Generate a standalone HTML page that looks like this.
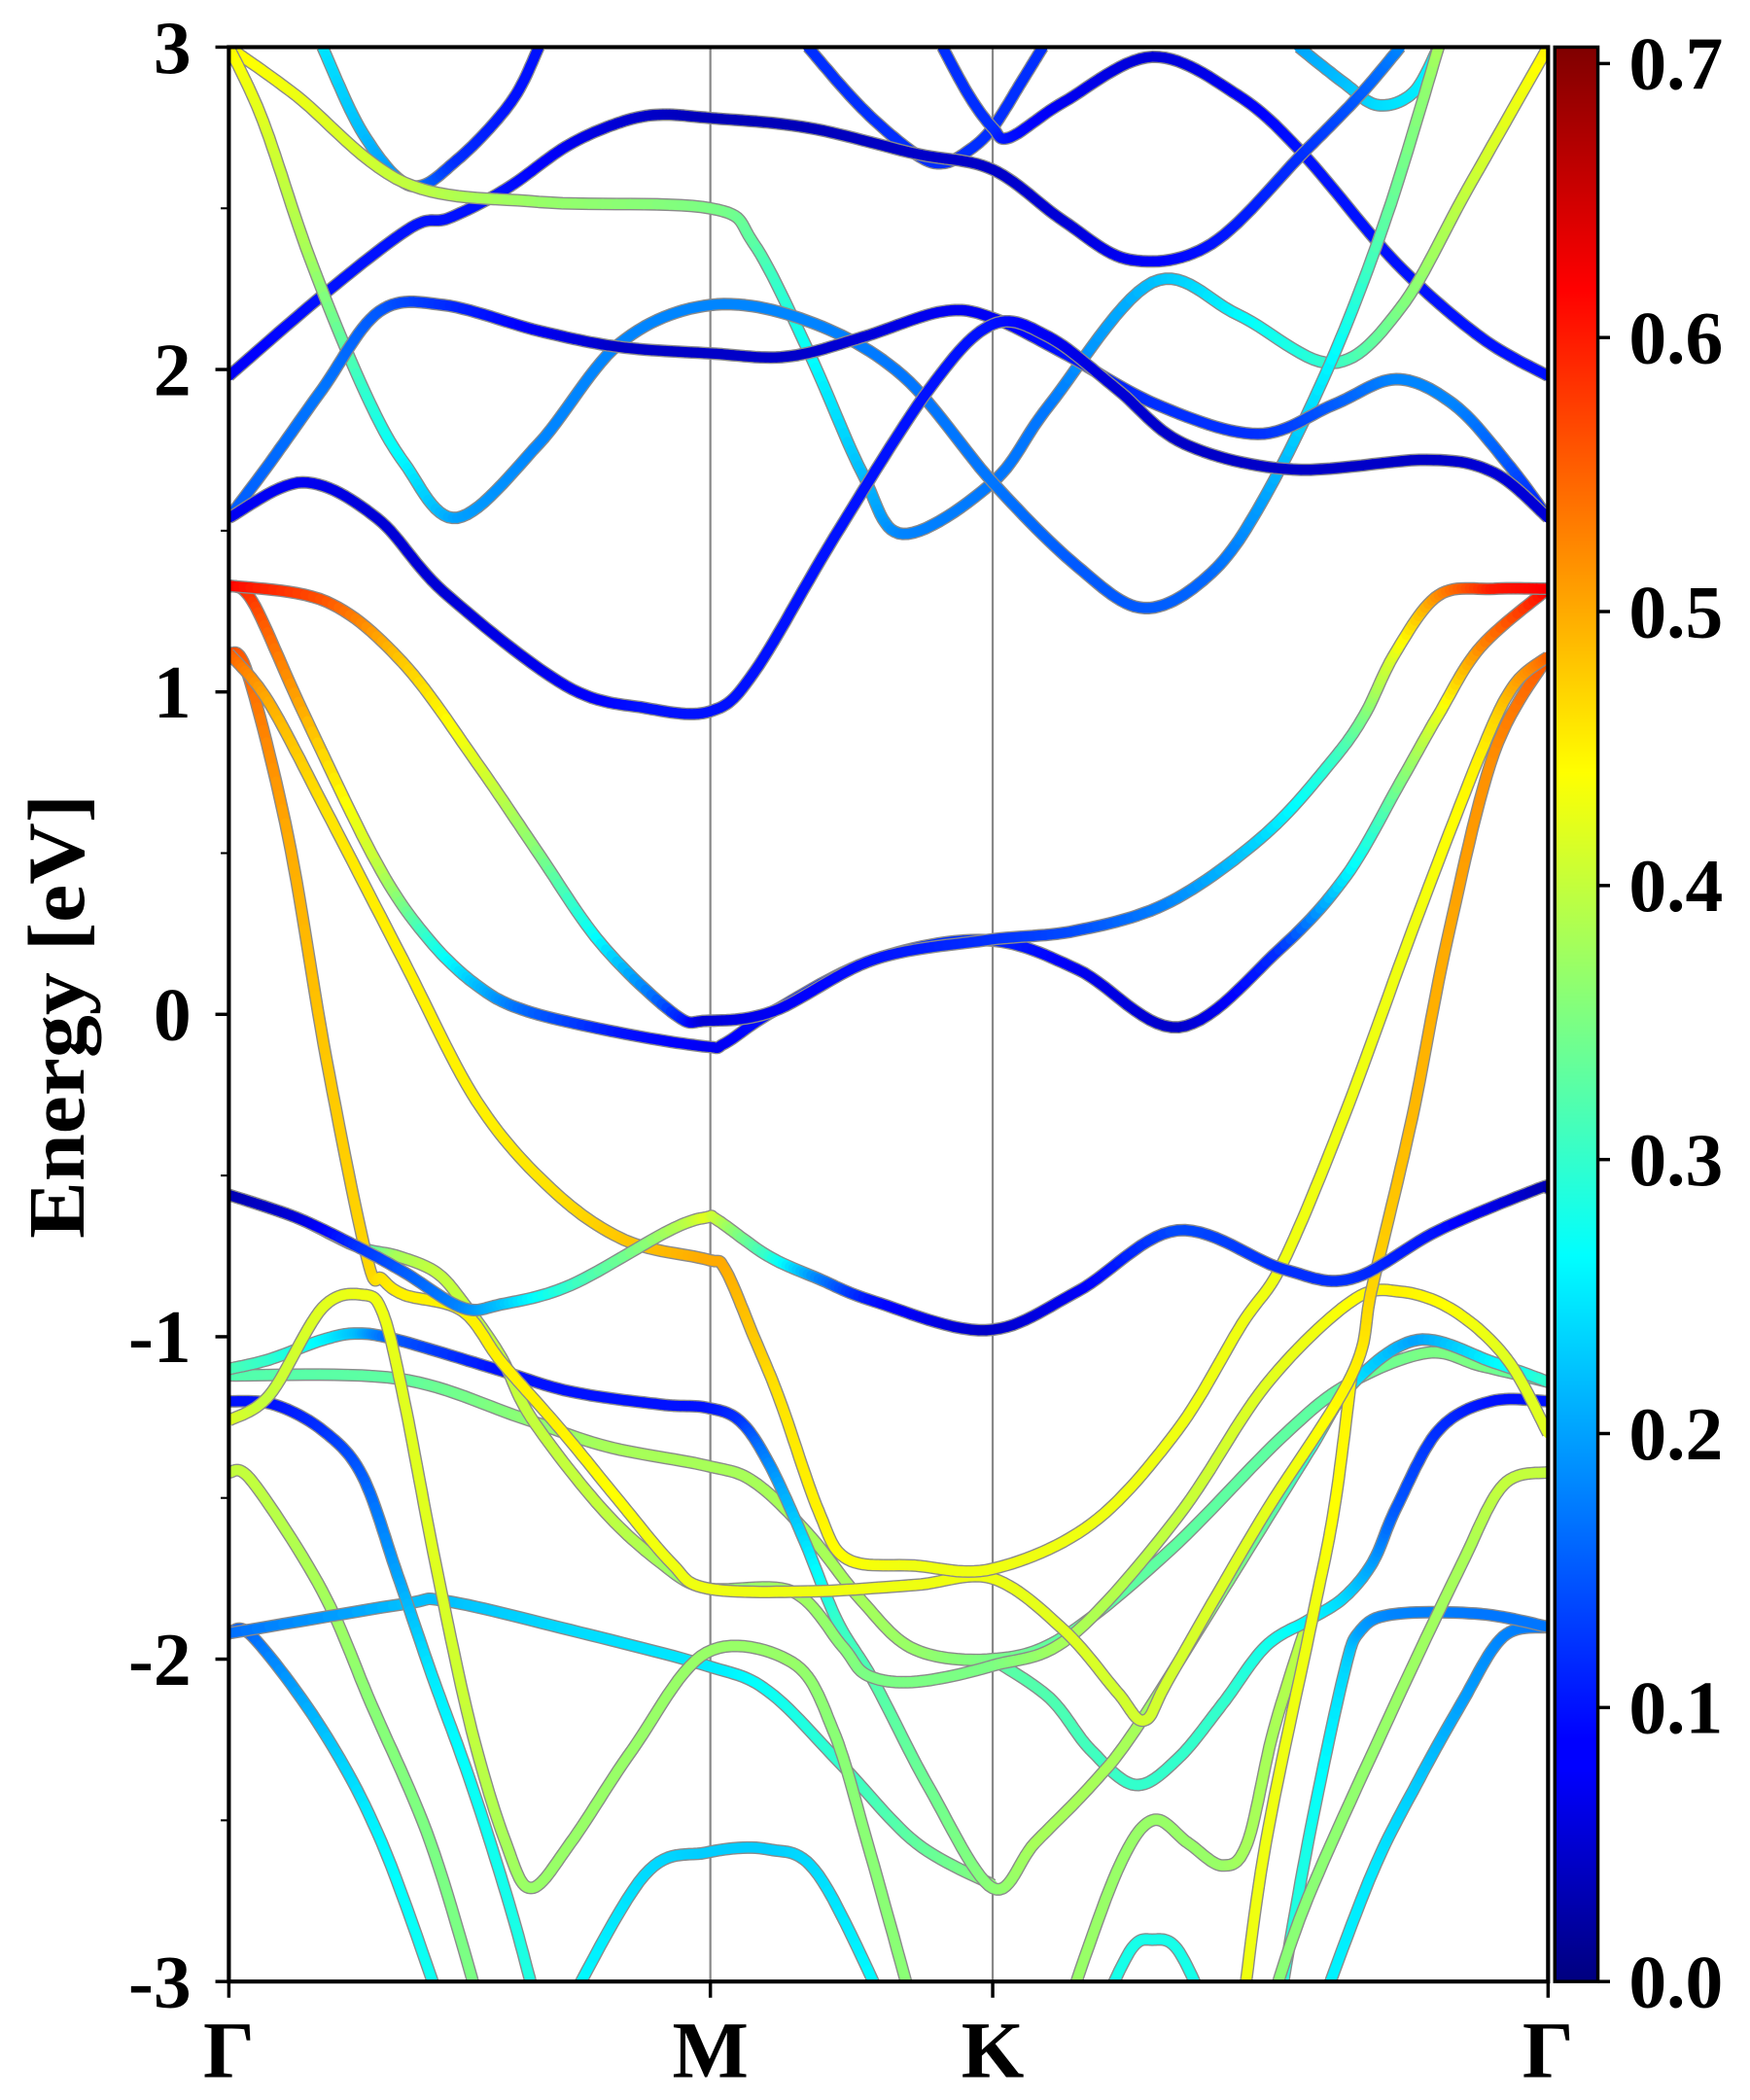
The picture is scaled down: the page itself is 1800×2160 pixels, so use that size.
<!DOCTYPE html>
<html><head><meta charset="utf-8"><style>html,body{margin:0;padding:0;background:#fff}svg{display:block}text{font-family:"Liberation Serif",serif;font-weight:bold;fill:#000}</style></head>
<body>
<svg id="chart" width="1800" height="2160" viewBox="0 0 1300 1560" xmlns="http://www.w3.org/2000/svg">
<defs>
<clipPath id="plotClip"><rect x="170" y="35" width="980" height="1437"/></clipPath>
<linearGradient id="jet" x1="0" y1="1" x2="0" y2="0">
<stop offset="0" stop-color="#00007f"/><stop offset="0.11" stop-color="#0000ff"/><stop offset="0.125" stop-color="#0000ff"/><stop offset="0.375" stop-color="#00ffff"/><stop offset="0.625" stop-color="#ffff00"/><stop offset="0.875" stop-color="#ff0000"/><stop offset="1" stop-color="#7f0000"/>
</linearGradient>
</defs>
<g id="bands" clip-path="url(#plotClip)"></g>
<g id="axes"></g>
</svg>
<script>
// ---- data: k in % of path Γ-M-K-Γ, energy in eV, weight ----
const kTickLabels=["Γ","M","K","Γ"];
const kTickPos=[0,36.5,57.9,100];
const eTicks=[-3,-2,-1,0,1,2,3];
const cbTicks=[0.0,0.1,0.2,0.3,0.4,0.5,0.6,0.7];
const cbMax=0.706;

const c1K=[0,5.6,11.2,16.3,25.5,31.6,36.5,39.8,45.9,53.1,57.9,62.2,67.3,72.4,80.6,90.8,95.9,100];
const c1E=[1.54,1.65,1.54,1.31,1.02,0.95,0.94,1.06,1.48,1.94,2.14,2.10,1.94,1.77,1.69,1.72,1.68,1.54];
const c1W=[.08,.08,.06,.06,.08,.1,.1,.1,.1,.1,.1,.08,.06,.05,.05,.05,.06,.06];
const c2K=[0,3.1,7.1,11.4,16.3,23.5,29.6,36.5,42.3,48,54.1,57.9,63.3,70.4,78,83.7,88.5,92.9,96.9,100];
const c2E=[1.54,1.71,1.94,2.18,2.20,2.12,2.07,2.05,2.04,2.10,2.18,2.16,2.05,1.89,1.80,1.89,1.97,1.89,1.71,1.54];
const c2W=[.15,.16,.17,.15,.12,.08,.05,.05,.05,.06,.08,.08,.1,.12,.12,.15,.18,.18,.15,.1];
const c3K=[0,2.6,6.1,10.2,13.3,17.3,23.5,29.6,36.5,43.9,51.1,57.9,64.3,69.4,74.5,78.6,83.6,87.8,91.7];
const c3E=[3.0,2.77,2.35,1.94,1.71,1.54,1.77,2.08,2.20,2.15,1.98,1.65,1.39,1.26,1.37,1.61,2.03,2.48,3.0];
const c3W=[.45,.42,.38,.3,.26,.2,.18,.18,.18,.18,.17,.17,.15,.15,.16,.2,.26,.33,.38];
const c4K=[0,5.1,13.3,23.5,36.5,39.8,43.9,48,51.1,57.9,62.2,70,76.5,83.6,88.8,93.9,100];
const c4E=[3.0,2.85,2.58,2.52,2.50,2.39,2.06,1.68,1.49,1.65,1.89,2.27,2.17,2.02,2.19,2.56,3.0];
const c4W=[.45,.43,.4,.37,.35,.33,.27,.22,.18,.17,.17,.22,.26,.3,.35,.4,.45];
const c5K=[0,7.1,13.8,16.7,21,25.5,29.2,32.4,36.5,43.9,52,57.9,63.3,68.4,74.5,81.4,85.7,88.8];
const c5E=[1.98,2.23,2.44,2.47,2.56,2.69,2.76,2.79,2.78,2.75,2.67,2.62,2.46,2.34,2.39,2.67,2.85,3.0];
const c5W=[.08,.1,.1,.1,.1,.08,.06,.05,.04,.04,.05,.05,.06,.08,.1,.12,.15,.18];
const c6K=[43.9,48,52,54.1,56.1,57.9,60.2,61.7];
const c6E=[3.0,2.81,2.67,2.64,2.68,2.75,2.90,3.0];
const c6W=[.12,.12,.12,.12,.12,.12,.12,.12];
const c7K=[54.1,56.1,57.9,59.2,63.3,70,76.5,81.4,88.5,94.9,100];
const c7E=[3.0,2.85,2.75,2.72,2.83,2.97,2.85,2.67,2.33,2.10,1.98];
const c7W=[.12,.12,.12,.1,.08,.06,.08,.1,.1,.1,.1];
const c8K=[7.1,10.2,13.8,17.3,21.4,23.5];
const c8E=[3.0,2.73,2.57,2.65,2.83,3.0];
const c8W=[.25,.22,.18,.12,.1,.1];
const c9K=[81.1,84.5,87.1,89.8,91.7];
const c9E=[3.0,2.89,2.82,2.86,3.0];
const c9W=[.2,.22,.24,.25,.26];

const v1K=[0,7.4,13.2,18.8,23.3,28.2,33.8,36.2,41.3,48.9,57.4,64.3,71.4,78.6,83.7,86.1,88.4,91.7,95.9,100];
const v1E=[1.33,1.28,1.09,0.78,0.51,0.22,0.0,-0.02,0.01,0.17,0.23,0.26,0.35,0.56,0.79,0.93,1.12,1.30,1.32,1.32];
const v1W=[.62,.56,.48,.42,.36,.26,.12,.06,.08,.1,.12,.14,.18,.24,.3,.35,.42,.52,.6,.62];
const vbK=[0,1.8,5.6,11.2,15,18.8,22.6,30,36.2,37.6,41.3,48.9,57.4,64.3,72,79.6,84.7,88.8,91.7,94.9,100];
const vbE=[1.33,1.28,0.94,0.47,0.24,0.09,0.01,-0.06,-0.10,-0.09,0.01,0.17,0.23,0.14,-0.04,0.20,0.43,0.72,0.93,1.14,1.32];
const vbW=[.62,.58,.5,.4,.3,.22,.16,.1,.08,.08,.1,.12,.12,.08,.05,.12,.25,.35,.42,.52,.62];
const v2K=[0,3,7.4,13.2,18.8,24.4,30,36.2,37.6,39.8,41.8,44.7,46.9,52,57.9,65.4,71.9,76.8,79.9,84.5,89.8,94.9,97.4,100];
const v2E=[1.12,0.97,0.63,0.17,-0.27,-0.54,-0.7,-0.76,-0.79,-1.0,-1.2,-1.54,-1.69,-1.71,-1.72,-1.58,-1.29,-0.96,-0.77,-0.32,0.27,0.81,1.02,1.11];
const v2W=[.56,.5,.46,.45,.45,.46,.48,.5,.5,.48,.46,.45,.44,.43,.43,.43,.43,.43,.43,.43,.43,.45,.5,.55];
const v4K=[0,1.4,4.5,7.4,10.5,11.6,13.3,17.7,20.7,25.2,29.6,33.5,36.2,43.9,52,57.9,63.3,67.3,69.4,71.4,78.2,85.1,86.7,89.7,92.3,95.9,100];
const v4E=[1.12,1.06,0.55,-0.14,-0.76,-0.82,-0.87,-0.92,-1.08,-1.29,-1.51,-1.70,-1.78,-1.79,-1.77,-1.75,-1.91,-2.1,-2.19,-2.05,-1.57,-1.12,-0.84,-0.32,0.22,0.81,1.11];
const v4W=[.58,.55,.5,.48,.47,.46,.45,.45,.45,.45,.44,.43,.43,.43,.43,.43,.42,.41,.41,.41,.42,.45,.47,.49,.5,.52,.56];
const r9K=[76.8,78.6,82.1,83.8,85.1];
const r9E=[-3.1,-2.57,-1.88,-1.53,-1.12];
const r9W=[.43,.43,.43,.44,.45];
const v5K=[0,5.1,9.7,13.3,17.7,20.6,25.9,33.4,36.2,37.1,40.9,44.7,48.9,57.4,64.3,71.9,79.9,85.1,91.7,99.3,100];
const v5E=[-0.56,-0.63,-0.72,-0.80,-0.91,-0.9,-0.84,-0.67,-0.63,-0.64,-0.75,-0.82,-0.89,-0.98,-0.86,-0.67,-0.79,-0.82,-0.67,-0.54,-0.54];
const v5W=[.03,.06,.12,.15,.18,.22,.3,.38,.42,.4,.3,.18,.1,.05,.08,.14,.12,.12,.1,.04,.03];
const v7K=[0,5.1,9.7,12.8,15.7,17.7,20.6,22.9,28.2,32.7,36.2,42.7,46.5,48.4,52.1,57.9,63.8,71.9,78.6,85.1,88.8,92.9,96.9,100];
const v7E=[-0.56,-0.63,-0.72,-0.75,-0.8,-0.89,-1.06,-1.25,-1.53,-1.7,-1.78,-1.79,-1.96,-2.05,-2.07,-2.02,-1.93,-1.56,-1.15,-0.89,-0.86,-0.92,-1.07,-1.30];
const v7W=[.03,.06,.3,.38,.4,.4,.4,.4,.4,.38,.36,.38,.36,.35,.35,.35,.38,.4,.42,.44,.45,.44,.42,.42];
const v8K=[0,3.1,7.1,10.2,11.7,13.3,15.7,18.4,21,22.9,25.9,30.6,36.2,42.7,45.8,48.4,52];
const v8E=[-1.26,-1.18,-0.91,-0.87,-0.93,-1.2,-1.71,-2.22,-2.57,-2.71,-2.57,-2.28,-1.98,-2.01,-2.22,-2.57,-3.1];
const v8W=[.42,.4,.42,.43,.43,.42,.42,.4,.38,.37,.37,.37,.37,.37,.36,.36,.36];
const v9K=[0,3.1,7.1,9.7,12.8,20.2,25.9,32.7,36.2,38.7,40.9,43.6,46.1,48.9,53.1,57.9,61.1,65.4,68.7,75.3,81.8,85.1,90.1,95.9,100];
const v9E=[-1.1,-1.07,-1.01,-0.99,-1.01,-1.1,-1.17,-1.21,-1.22,-1.26,-1.39,-1.63,-1.88,-2.07,-2.4,-2.71,-2.57,-2.39,-2.22,-1.79,-1.36,-1.15,-1.01,-1.08,-1.14];
const v9W=[.32,.3,.26,.22,.15,.1,.1,.1,.1,.12,.18,.24,.3,.32,.34,.36,.38,.38,.38,.36,.3,.25,.2,.26,.3];
const v11K=[0,12.8,22.1,28.6,36.2,39.8,43.9,48,52,57.9,63.3,71.4,79.6,84.7,90.8,94.9,100];
const v11E=[-1.12,-1.13,-1.25,-1.34,-1.4,-1.45,-1.61,-1.82,-1.97,-2.0,-1.93,-1.66,-1.32,-1.15,-1.05,-1.09,-1.14];
const v11W=[.32,.33,.36,.38,.38,.38,.38,.38,.37,.35,.33,.33,.33,.33,.35,.35,.32];
const v12K=[0,3.4,7.1,10.1,12.8,15.4,18.4,21.4,23.5];
const v12E=[-1.2,-1.21,-1.29,-1.43,-1.74,-2.05,-2.39,-2.78,-3.1];
const v12W=[.1,.1,.12,.15,.2,.25,.27,.28,.29];
const v13K=[0,1.8,7.1,10.8,15.3,19.2];
const v13E=[-1.42,-1.45,-1.79,-2.14,-2.57,-3.1];
const v13W=[.4,.4,.38,.36,.35,.35];
const v14K=[0,13.1,16.5,25.9,36.2,40.9,46.5,52.1,57.9];
const v14E=[-1.92,-1.83,-1.82,-1.91,-2.02,-2.1,-2.33,-2.57,-2.7];
const v14W=[.16,.22,.22,.24,.25,.27,.3,.33,.36];
const v15K=[0,1.8,7.1,11.6,16.3];
const v15E=[-1.92,-1.93,-2.22,-2.57,-3.1];
const v15W=[.15,.16,.22,.26,.28];
const v16K=[25.4,31.5,36.2,40.9,44.7,50];
const v16E=[-3.1,-2.67,-2.6,-2.59,-2.67,-3.1];
const v16W=[.27,.24,.23,.23,.24,.27];
const r1K=[57.9,62.2,65.3,68.7,71.9,75.3,78.6,81.8,84.5,86.7,88.5,91.7,95.7,100];
const r1E=[-2.0,-2.12,-2.28,-2.39,-2.31,-2.14,-1.96,-1.88,-1.81,-1.7,-1.53,-1.29,-1.2,-1.2];
const r1W=[.33,.32,.31,.3,.3,.3,.28,.26,.24,.2,.15,.12,.1,.1];
const r2K=[82.6,86.7,90,93.4,96.6,100];
const r2E=[-3.1,-2.66,-2.39,-2.14,-1.93,-1.9];
const r2W=[.26,.25,.23,.2,.18,.17];
const r3K=[79.5,81.8,84.5,85.8,88.4,94.9,100];
const r3E=[-3.1,-2.57,-2.05,-1.91,-1.86,-1.86,-1.9];
const r3W=[.3,.28,.24,.2,.18,.17,.17];
const r4K=[78.8,81.8,88.4,93.4,96.6,100];
const r4E=[-3.1,-2.74,-2.14,-1.71,-1.46,-1.42];
const r4W=[.36,.36,.37,.38,.4,.4];
const r7K=[63.4,67.3,70,72.7,75.3,77.2,79.2,81.8];
const r7E=[-3.1,-2.66,-2.5,-2.57,-2.64,-2.57,-2.22,-1.88];
const r7W=[.37,.37,.37,.37,.37,.38,.38,.4];
const domeK=[66,68.4,70,71.9,74.3];
const domeE=[-3.1,-2.9,-2.87,-2.9,-3.1];
const domeW=[.28,.28,.28,.28,.28];

const bandList=[
 ["band-c8",c8K,c8E,c8W],["band-c9",c9K,c9E,c9W],["band-c6",c6K,c6E,c6W],["band-c7",c7K,c7E,c7W],
 ["band-c5",c5K,c5E,c5W],["band-c4",c4K,c4E,c4W],["band-c3",c3K,c3E,c3W],["band-c2",c2K,c2E,c2W],["band-c1",c1K,c1E,c1W],
 ["band-v16",v16K,v16E,v16W],["band-dome",domeK,domeE,domeW],["band-r7",r7K,r7E,r7W],["band-r2",r2K,r2E,r2W],["band-r3",r3K,r3E,r3W],["band-r4",r4K,r4E,r4W],
 ["band-v15",v15K,v15E,v15W],["band-v13",v13K,v13E,v13W],["band-v14",v14K,v14E,v14W],["band-v12",v12K,v12E,v12W],
 ["band-r1",r1K,r1E,r1W],["band-v11",v11K,v11E,v11W],["band-v9",v9K,v9E,v9W],["band-v8",v8K,v8E,v8W],["band-v7",v7K,v7E,v7W],
 ["band-r9",r9K,r9E,r9W],["band-v4",v4K,v4E,v4W],["band-v2",v2K,v2E,v2W],["band-v5",v5K,v5E,v5W],["band-vb",vbK,vbE,vbW],["band-v1",v1K,v1E,v1W]
];

const NS="http://www.w3.org/2000/svg";
const X0=170,X1=1150,Y0=35,Y1=1472,EMIN=-3,EMAX=3;
function xk(k){return X0+k/100*(X1-X0);}
function yE(e){return Y1-(e-EMIN)/(EMAX-EMIN)*(Y1-Y0);}
function cl(v){return Math.max(0,Math.min(1,v));}
function jet(w){const t=cl(w/cbMax);
 const r=cl(1.5-Math.abs(4*t-3)),g=cl(1.5-Math.abs(4*t-2)),b=cl(1.5-Math.abs(4*t-1));
 return "rgb("+Math.round(r*255)+","+Math.round(g*255)+","+Math.round(b*255)+")";}
function mk(tag,attrs,parent){const el=document.createElementNS(NS,tag);for(const a in attrs)el.setAttribute(a,attrs[a]);parent.appendChild(el);return el;}

const gB=document.getElementById("bands");
const gA=document.getElementById("axes");
[kTickPos[1],kTickPos[2]].forEach(function(k,i){
 const l=mk("line",{x1:xk(k),x2:xk(k),y1:Y0,y2:Y1,stroke:"#888","stroke-width":1.6},gB);
 
 
});
function samplePath(K,E,W){
 const P=K.map(function(k,i){return [xk(k),yE(E[i]),W[i]];});
 const out=[];const n=P.length;
 for(let i=0;i<n-1;i++){
  const p0=P[Math.max(0,i-1)],p1=P[i],p2=P[i+1],p3=P[Math.min(n-1,i+2)];
  const steps=14;
  for(let s=0;s<steps;s++){const t=s/steps,t2=t*t,t3=t2*t;
   const f=function(a,b,c,d){return 0.5*((2*b)+(-a+c)*t+(2*a-5*b+4*c-d)*t2+(-a+3*b-3*c+d)*t3);};
   out.push([f(p0[0],p1[0],p2[0],p3[0]),f(p0[1],p1[1],p2[1],p3[1]),p1[2]+(p2[2]-p1[2])*t]);}
 }
 out.push(P[n-1]);return out;
}
bandList.forEach(function(b){
 const g=mk("g",{},gB);
 
 
 const pts=samplePath(b[1],b[2],b[3]);
 mk("polyline",{points:pts.map(function(p){return p[0].toFixed(1)+","+p[1].toFixed(1);}).join(" "),fill:"none",stroke:"#8a8a8a","stroke-width":9.4,"stroke-linejoin":"round","stroke-linecap":"butt"},g);
 for(let i=0;i<pts.length-1;i++){
  mk("line",{x1:pts[i][0].toFixed(1),y1:pts[i][1].toFixed(1),x2:pts[i+1][0].toFixed(1),y2:pts[i+1][1].toFixed(1),stroke:jet((pts[i][2]+pts[i+1][2])/2),"stroke-width":7.4,"stroke-linecap":"round"},g);
 }
});
const frame=mk("rect",{x:X0,y:Y0,width:X1-X0,height:Y1-Y0,fill:"none",stroke:"#000","stroke-width":3},gA);


eTicks.forEach(function(e){
 const y=yE(e);
 mk("line",{x1:X0-10,x2:X0,y1:y,y2:y,stroke:"#000","stroke-width":2.5},gA);
 const t=mk("text",{x:142,y:y+19,"text-anchor":"end","font-size":56},gA);
 t.textContent=String(e);
 
 
});
for(let e=-2.5;e<3;e+=1){const y=yE(e);mk("line",{x1:X0-6,x2:X0,y1:y,y2:y,stroke:"#000","stroke-width":1.5},gA);}
kTickPos.forEach(function(k,i){
 const x=xk(k);
 mk("line",{x1:x,x2:x,y1:Y1,y2:Y1+12,stroke:"#000","stroke-width":2.5},gA);
 const t=mk("text",{x:x,y:1543,"text-anchor":"middle","font-size":60},gA);
 t.textContent=kTickLabels[i];
 
 
});
const yt=mk("text",{x:0,y:0,"text-anchor":"middle","font-size":60,textLength:330,lengthAdjust:"spacingAndGlyphs",transform:"translate(62,755) rotate(-90)"},gA);
yt.textContent="Energy [eV]";


const CB0=1155,CB1=1187;
const cb=mk("rect",{x:CB0,y:Y0,width:CB1-CB0,height:Y1-Y0,fill:"url(#jet)",stroke:"#000","stroke-width":2.5},gA);


cbTicks.forEach(function(v){
 const y=Y1-v/cbMax*(Y1-Y0);
 mk("line",{x1:CB1,x2:CB1+9,y1:y,y2:y,stroke:"#000","stroke-width":2.5},gA);
 const t=mk("text",{x:1210,y:y+19,"text-anchor":"start","font-size":56},gA);
 t.textContent=v.toFixed(1);
 
 
});
</script>
</body></html>
